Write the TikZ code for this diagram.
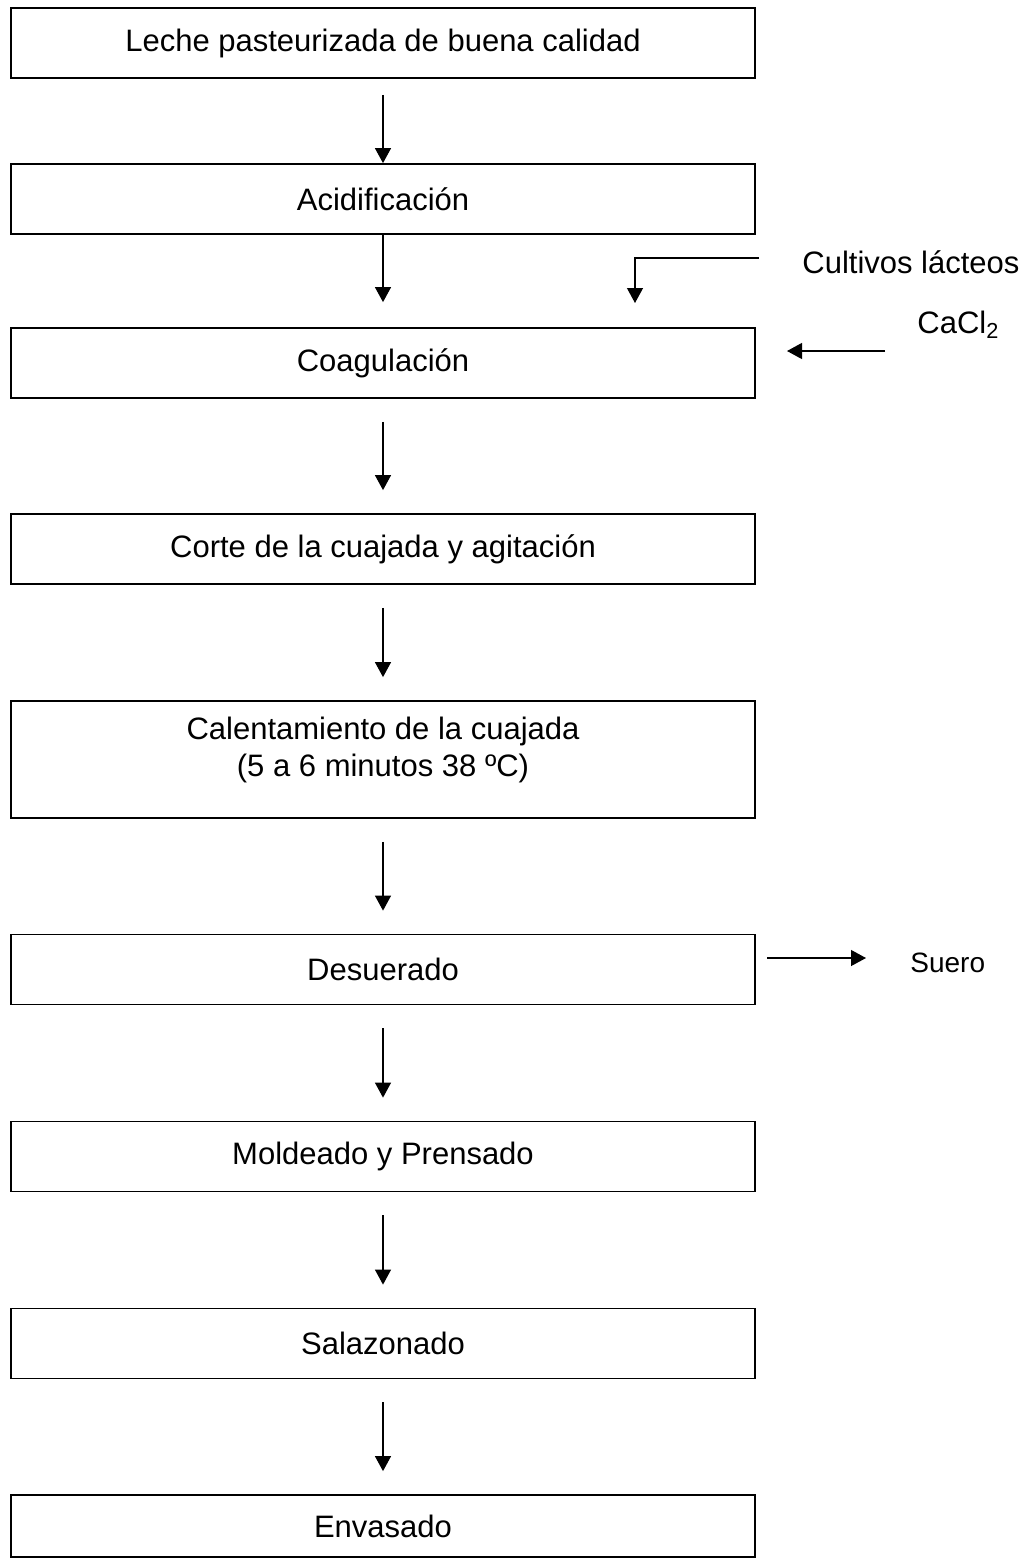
\documentclass[tikz,border=0pt]{standalone}
\usepackage{fontspec}
\setmainfont{Liberation Sans}
\usetikzlibrary{arrows.meta}

\begin{document}
\begin{tikzpicture}[x=0.5pt, y=-0.5pt, >={Triangle[width=8pt, length=7.5pt]},
  paso/.style={draw, line width=0.9pt, minimum width=372pt, minimum height=35pt,
    align=center, font=\fontsize{15.5}{18.5}\selectfont},
  flecha/.style={->, line width=0.6pt},
  texto/.style={anchor=base west, inner sep=0pt, font=\fontsize{15.5}{18.5}\selectfont},
]

  \useasboundingbox (0, 0) rectangle (1033, 1559);

  \node[paso] (leche) at (383, 43) {Leche pasteurizada de buena calidad};
  \node[paso] (acid) at (383, 199) {Acidificación};
  \node[paso] (coag) at (383, 363) {Coagulación};
  \node[paso] (corte) at (383, 549) {Corte de la cuajada y agitación};
  \node[paso, minimum height=58.5pt, text depth=13pt] (calent) at (383, 759.5)
    {Calentamiento de la cuajada\\(5 a 6 minutos 38 ºC)};
  \node[paso] (desuer) at (383, 969.5) {Desuerado};
  \node[paso] (molde) at (383, 1156.5) {Moldeado y Prensado};
  \node[paso] (salaz) at (383, 1343.5) {Salazonado};
  \node[paso, minimum height=31pt] (envas) at (383, 1526) {Envasado};

  \draw[flecha, shorten <=8pt] (leche) -- (acid);
  \draw[flecha, shorten >=12.5pt] (acid) -- (coag);
  \foreach \a/\b in {coag/corte, corte/calent, calent/desuer, desuer/molde, molde/salaz, salaz/envas} {
    \draw[flecha, shorten <=11.5pt, shorten >=11.5pt] (\a) -- (\b);
  }

  %
  \coordinate (cult-ini) at (759, 258);
  \coordinate (cult-fin) at (635, 303);
  \draw[flecha] (cult-ini) -| (cult-fin);
  \node[texto] (cultivos) at (802, 273) {Cultivos lácteos};

  \coordinate (cacl-ini) at (885, 351);
  \coordinate (cacl-fin) at (787, 351);
  \draw[flecha] (cacl-ini) -- (cacl-fin);
  \node[texto] (cacl) at (917, 333) {CaCl\textsubscript{2}};

  %
  \coordinate (suero-ini) at (767, 958);
  \coordinate (suero-fin) at (866, 958);
  \draw[flecha] (suero-ini) -- (suero-fin);
  \node[texto, font=\fontsize{14}{17}\selectfont] (suero) at (910, 972) {Suero};

\end{tikzpicture}
\end{document}
